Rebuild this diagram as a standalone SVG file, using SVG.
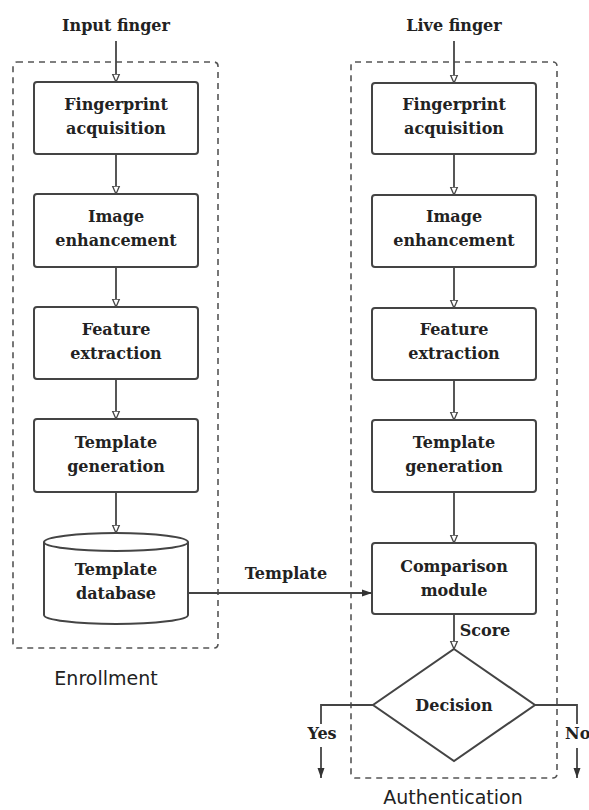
<svg xmlns="http://www.w3.org/2000/svg" width="589" height="810" viewBox="0 0 589 810">
<style>
.bg{fill:#ffffff}
.grp{fill:none;stroke:#555;stroke-width:1.6;stroke-dasharray:6 5}
.box{fill:#fff;stroke:#444;stroke-width:2}
.t{font-family:"DejaVu Serif",serif;font-weight:bold;font-size:16px;fill:#222;text-anchor:middle}
.s{font-family:"DejaVu Sans",sans-serif;font-size:19px;fill:#222;text-anchor:middle}
.c{fill:none;stroke:#444;stroke-width:1.8}
</style>
<defs>
<marker id="open" viewBox="0 0 8 10" refX="8" refY="5" markerWidth="8" markerHeight="10" markerUnits="userSpaceOnUse" orient="auto">
<path d="M0,1.5 L8,5 L0,8.5 Z" fill="#fff" stroke="#444" stroke-width="1.3"/>
</marker>
<marker id="fill" viewBox="0 0 10 8" refX="10" refY="4" markerWidth="10" markerHeight="8" markerUnits="userSpaceOnUse" orient="auto">
<path d="M0,0.5 L10,4 L0,7.5 Z" fill="#333"/>
</marker>
</defs>
<rect class="bg" x="0" y="0" width="589" height="810"/>

<g id="enrollment-group">
<rect class="grp" x="13" y="62" width="205" height="586" rx="4"/>
<text class="s" x="106" y="685">Enrollment</text>
</g>
<g id="authentication-group">
<rect class="grp" x="351" y="62" width="206" height="716" rx="4"/>
<text class="s" x="453" y="804">Authentication</text>
</g>

<g id="input-finger"><text class="t" x="116" y="31">Input finger</text></g>
<g id="live-finger"><text class="t" x="454" y="31">Live finger</text></g>

<g id="e-acq"><rect class="box" x="34" y="82" width="164" height="72" rx="3"/>
<text class="t" x="116" y="110">Fingerprint</text><text class="t" x="116" y="134">acquisition</text></g>
<g id="e-enh"><rect class="box" x="34" y="194" width="164" height="73" rx="3"/>
<text class="t" x="116" y="222">Image</text><text class="t" x="116" y="246">enhancement</text></g>
<g id="e-feat"><rect class="box" x="34" y="307" width="164" height="72" rx="3"/>
<text class="t" x="116" y="335">Feature</text><text class="t" x="116" y="359">extraction</text></g>
<g id="e-tpl"><rect class="box" x="34" y="419" width="164" height="73" rx="3"/>
<text class="t" x="116" y="448">Template</text><text class="t" x="116" y="472">generation</text></g>
<g id="e-db">
<path class="box" d="M44,542 A72,9 0 0 1 188,542 L188,615 A72,9 0 0 1 44,615 Z"/>
<path class="box" d="M44,542 A72,9 0 0 0 188,542" fill="none"/>
<text class="t" x="116" y="575">Template</text><text class="t" x="116" y="599">database</text></g>

<g id="a-acq"><rect class="box" x="372" y="83" width="164" height="71" rx="3"/>
<text class="t" x="454" y="110">Fingerprint</text><text class="t" x="454" y="134">acquisition</text></g>
<g id="a-enh"><rect class="box" x="372" y="195" width="164" height="72" rx="3"/>
<text class="t" x="454" y="222">Image</text><text class="t" x="454" y="246">enhancement</text></g>
<g id="a-feat"><rect class="box" x="372" y="308" width="164" height="72" rx="3"/>
<text class="t" x="454" y="335">Feature</text><text class="t" x="454" y="359">extraction</text></g>
<g id="a-tpl"><rect class="box" x="372" y="420" width="164" height="72" rx="3"/>
<text class="t" x="454" y="448">Template</text><text class="t" x="454" y="472">generation</text></g>
<g id="a-cmp"><rect class="box" x="372" y="543" width="164" height="71" rx="3"/>
<text class="t" x="454" y="572">Comparison</text><text class="t" x="454" y="596">module</text></g>
<g id="a-dec"><path class="box" d="M454,649 L535,705 L454,761 L373,705 Z" stroke-width="1.6"/>
<text class="t" x="454" y="711">Decision</text></g>

<g id="connectors">
<line class="c" x1="116" y1="41" x2="116" y2="82" marker-end="url(#open)"/>
<line class="c" x1="116" y1="154" x2="116" y2="194" marker-end="url(#open)"/>
<line class="c" x1="116" y1="267" x2="116" y2="307" marker-end="url(#open)"/>
<line class="c" x1="116" y1="379" x2="116" y2="419" marker-end="url(#open)"/>
<line class="c" x1="116" y1="492" x2="116" y2="533" marker-end="url(#open)"/>
<line class="c" x1="454" y1="41" x2="454" y2="83" marker-end="url(#open)"/>
<line class="c" x1="454" y1="154" x2="454" y2="195" marker-end="url(#open)"/>
<line class="c" x1="454" y1="267" x2="454" y2="308" marker-end="url(#open)"/>
<line class="c" x1="454" y1="380" x2="454" y2="420" marker-end="url(#open)"/>
<line class="c" x1="454" y1="492" x2="454" y2="543" marker-end="url(#open)"/>
<line class="c" x1="454" y1="614" x2="454" y2="649" marker-end="url(#open)"/>
<line class="c" x1="188" y1="593" x2="372" y2="593" marker-end="url(#fill)"/>
<text class="t" x="286" y="579">Template</text>
<text class="t" x="485" y="636">Score</text>
<polyline class="c" points="373,705 321,705 321,724"/>
<line class="c" x1="321" y1="747" x2="321" y2="778" marker-end="url(#fill)"/>
<text class="t" x="322" y="739">Yes</text>
<polyline class="c" points="535,705 577,705 577,724"/>
<line class="c" x1="577" y1="748" x2="577" y2="778" marker-end="url(#fill)"/>
<text class="t" x="565" y="739" style="text-anchor:start">No</text>
</g>
</svg>
